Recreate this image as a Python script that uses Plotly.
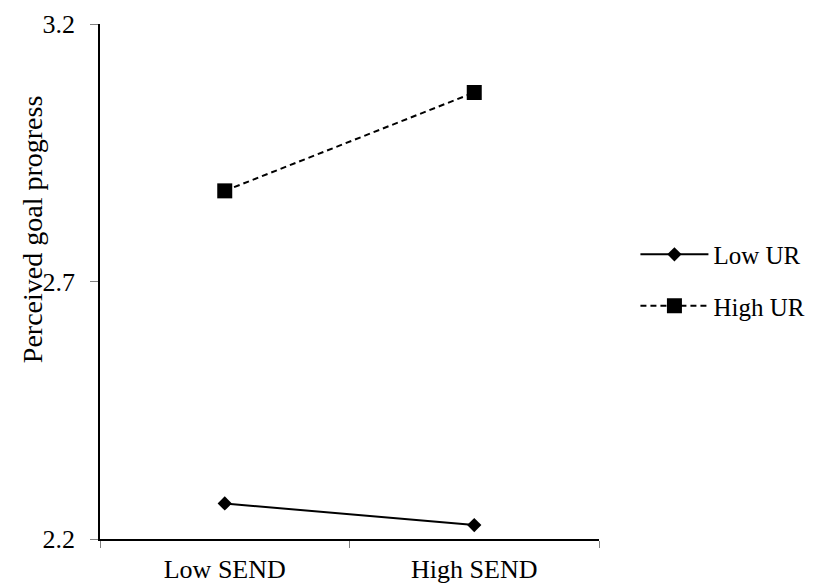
import plotly.graph_objects as go

categories = ["Low SEND", "High SEND"]
low_ur = [2.269, 2.227]
high_ur = [2.876, 3.067]
y_ticks = [2.2, 2.7, 3.2]
y_tick_labels = ["2.2", "2.7", "3.2"]

FONT = "Liberation Serif, Times New Roman, serif"

fig = go.Figure()
fig.add_trace(go.Scatter(
    x=categories, y=low_ur, name="Low UR", mode="lines+markers",
    line=dict(color="black", width=2),
    marker=dict(symbol="diamond", size=11, color="black"),
    legendgroup="a",
))
fig.add_trace(go.Scatter(
    x=categories, y=high_ur, name="High UR", mode="lines+markers",
    line=dict(color="black", width=2, dash="6px,4px"),
    marker=dict(symbol="square", size=15, color="black"),
    legendgroup="b",
))

fig.update_layout(
    width=805, height=577,
    margin=dict(l=92, r=214, t=16, b=46, autoexpand=False),
    paper_bgcolor="white", plot_bgcolor="white",
    font=dict(family=FONT, size=26, color="black"),
    showlegend=True,
    legend=dict(
        x=1.073, xanchor="left", y=0.597, yanchor="top",
        font=dict(family=FONT, size=25, color="black"),
        tracegroupgap=16, itemwidth=68,
        bgcolor="rgba(0,0,0,0)",
    ),
    xaxis=dict(
        type="category", categoryorder="array", categoryarray=categories,
        showline=True, linecolor="black", linewidth=1.5,
        ticks="outside", tickson="boundaries", ticklen=7, tickcolor="#808080", tickwidth=1,
        showgrid=False, zeroline=False, automargin=False,
        tickfont=dict(family=FONT, size=26, color="black"),
        ticklabelstandoff=6,
        range=[-0.5, 1.5],
    ),
    yaxis=dict(
        range=[2.2, 3.2], tickvals=y_ticks, ticktext=y_tick_labels,
        showline=True, linecolor="black", linewidth=1.5,
        ticks="outside", ticklen=8, tickcolor="#808080", tickwidth=1,
        showgrid=False, zeroline=False, automargin=False,
        tickfont=dict(family=FONT, size=26, color="black"),
        ticklabelstandoff=10,
    ),
    annotations=[dict(
        text="Perceived goal progress", textangle=-90,
        xref="paper", yref="paper", x=-0.136, y=0.60,
        xanchor="center", yanchor="middle", showarrow=False,
        font=dict(family=FONT, size=28, color="black"),
    )],
)

fig.write_html("out.html")
